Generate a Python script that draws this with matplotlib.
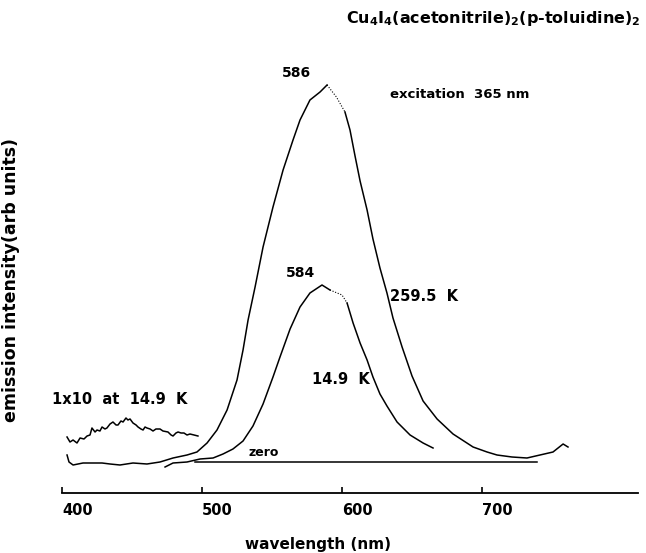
import matplotlib
matplotlib.use("Agg")
import matplotlib.pyplot as plt

# ---------------------------------------------------------------------
# Data (wavelength nm, arb. intensity, 0 = "zero" line)
# ---------------------------------------------------------------------
hot_nm = [403.6, 405.0, 407.9, 415.0, 422.1, 428.6, 434.3, 441.4, 450.7, 460.7,
          470.0, 479.3, 489.3, 496.4, 503.6, 510.7, 517.9, 525.0, 529.3, 532.9,
          537.9, 543.6, 550.7, 557.9, 565.0, 570.0, 577.1, 584.3, 589.3]
hot_int = [7, 0, -3, -1, -1, -1, -2, -3, -1, -2,
           0, 4, 7, 10, 19, 32, 52, 82, 112, 142,
           175, 215, 255, 292, 322, 342, 362, 370, 377]
hot_dot_nm = [589.3, 596.0, 602.1]
hot_dot_int = [377, 365, 350]
hot_tail_nm = [602.1, 605.7, 609.3, 612.9, 617.9, 622.1, 627.1, 632.1, 636.4, 642.9,
               650.0, 657.9, 667.9, 679.3, 693.6, 703.6, 710.7, 721.4, 732.1, 741.4,
               750.7, 757.9, 761.4]
hot_tail_int = [350, 332, 306, 281, 252, 223, 194, 169, 144, 115,
                86, 61, 43, 28, 15, 10, 7, 5, 4, 7,
                10, 18, 15]

cold_nm = [473.6, 479.3, 489.3, 498.6, 507.9, 515.0, 522.1, 529.3, 536.4, 543.6,
           550.7, 555.7, 562.9, 570.0, 577.1, 585.7, 591.4]
cold_int = [-5, -1, 0, 3, 4, 8, 13, 21, 36, 58,
            85, 105, 133, 155, 169, 177, 172]
cold_dot_nm = [591.4, 600.0, 603.6]
cold_dot_int = [172, 167, 159]
cold_tail_nm = [603.6, 607.9, 612.9, 617.9, 622.1, 627.1, 632.1, 639.3, 648.6, 657.9, 665.0]
cold_tail_int = [159, 139, 119, 102, 85, 68, 56, 40, 27, 19, 14]

x10_nm = [403.6, 405.7, 407.9, 410.7, 412.9, 415.7, 417.9, 420.0, 421.4, 423.6,
          425.0, 427.1, 428.6, 430.7, 432.1, 434.3, 436.4, 438.6, 440.0, 442.1,
          443.6, 445.7, 447.1, 448.6, 450.7, 452.9, 454.3, 456.4, 457.9, 459.3,
          460.7, 462.9, 465.0, 467.1, 470.0, 472.1, 475.7, 477.9, 479.3, 481.4,
          482.9, 485.0, 487.1, 489.3, 491.4, 494.3, 497.1]
x10_int = [25, 20, 22, 19, 24, 23, 26, 27, 34, 30,
           32, 31, 35, 33, 34, 38, 40, 37, 37, 41,
           40, 44, 42, 43, 39, 37, 35, 33, 32, 35,
           34, 33, 31, 33, 33, 31, 30, 27, 26, 29,
           30, 29, 29, 27, 28, 27, 26]

zero_nm = [495.0, 739.3]
zero_int = [0, 0]

xticks = [400, 500, 600, 700]

plt.rcParams['font.family'] = ['DejaVu Sans']
plt.rcParams['font.weight'] = 'bold'
plt.rcParams['mathtext.fontset'] = 'dejavusans'

fig = plt.figure(figsize=(6.46, 5.53), dpi=100)
ax = fig.add_axes([62 / 646, 1 - 493 / 553, 576 / 646, 433 / 553])

lw = 1.1
ax.plot(hot_nm, hot_int, color='black', lw=lw)
ax.plot(hot_dot_nm, hot_dot_int, color='black', lw=0.8, ls=(0, (1, 1.5)))
ax.plot(hot_tail_nm, hot_tail_int, color='black', lw=lw)
ax.plot(cold_nm, cold_int, color='black', lw=lw)
ax.plot(cold_dot_nm, cold_dot_int, color='black', lw=0.8, ls=(0, (1, 1.5)))
ax.plot(cold_tail_nm, cold_tail_int, color='black', lw=lw)
ax.plot(x10_nm, x10_int, color='black', lw=lw)
ax.plot(zero_nm, zero_int, color='black', lw=lw)

ax.set_xlim(400, 811.4)
ax.set_ylim(-31, 402)
for s in ['top', 'right', 'left']:
    ax.spines[s].set_visible(False)
ax.spines['bottom'].set_linewidth(1.3)
ax.set_yticks([])
ax.set_xticks(xticks)
ax.set_xticklabels([str(v) for v in xticks], ha='left', fontsize=10.5, fontweight='bold')
ax.tick_params(axis='x', direction='in', length=4, width=1.2, pad=7)

fs = 10.5
ax.text(567.1, 389, "586", ha='center', va='center', fontsize=10, fontweight='bold')
ax.text(570.7, 189, "584", ha='center', va='center', fontsize=10, fontweight='bold')
ax.text(634.3, 367, "excitation  365 nm", ha='left', va='center', fontsize=9.5, fontweight='bold')
ax.text(634.3, 165, "259.5  K", ha='left', va='center', fontsize=fs, fontweight='bold')
ax.text(578.6, 82, "14.9  K", ha='left', va='center', fontsize=fs, fontweight='bold')
ax.text(392.9, 62, "1x10  at  14.9  K", ha='left', va='center', fontsize=fs, fontweight='bold')
ax.text(544.3, 9, "zero", ha='center', va='center', fontsize=9, fontweight='bold')

fig.text(641 / 646, 1 - 18 / 553,
         r"Cu$_{\mathbf{4}}$I$_{\mathbf{4}}$(acetonitrile)$_{\mathbf{2}}$(p-toluidine)$_{\mathbf{2}}$",
         ha='right', va='center', fontsize=11.5, fontweight='bold')
fig.text(318 / 646, 1 - 545 / 553, "wavelength (nm)", ha='center', va='center',
         fontsize=11, fontweight='bold')
fig.text(11 / 646, 1 - 280 / 553, "emission intensity(arb units)", ha='center', va='center',
         rotation=90, fontsize=12.5, fontweight='bold')

fig.savefig("out.png", dpi=100)
